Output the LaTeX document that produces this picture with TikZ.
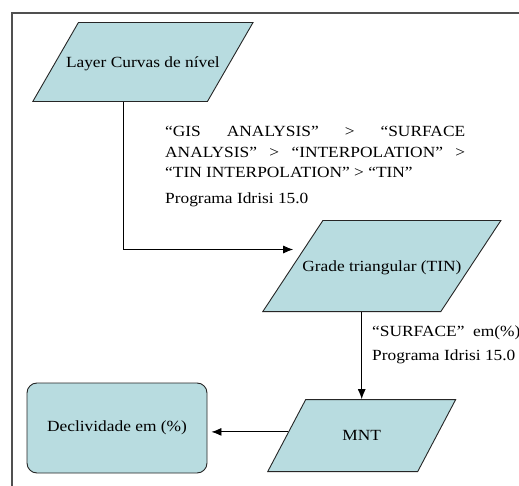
\documentclass[tikz,border=0pt]{standalone}
\usepackage{fontspec}
\setmainfont[FakeStretch=1.12]{Liberation Serif}
\usetikzlibrary{shapes.geometric,arrows.meta,calc}
\definecolor{datafill}{RGB}{184,220,224}
\definecolor{framegray}{RGB}{80,80,80}
\begin{document}
\begin{tikzpicture}[x=1pt,y=-1pt,
  datanode/.style={trapezium, draw=black!85, fill=datafill,
    line width=0.9pt, inner sep=0pt, anchor=bottom left corner,
    font=\fontsize{15.5}{18}\selectfont},
  resultbox/.style={rectangle, rounded corners=10pt, draw=black!85,
    fill=datafill, line width=0.9pt, inner sep=0pt,
    font=\fontsize{15.5}{18}\selectfont},
  flow/.style={-{Latex[length=10pt,width=8pt]}, line width=0.9pt},
  note/.style={font=\fontsize{15.5}{20.5}\selectfont, inner sep=0pt, anchor=west}]
\useasboundingbox (0,0) rectangle (519,486);
\clip (0,0) rectangle (519,486);
\fill[white] (0,0) rectangle (519,486);

% outer frame (open to the right and bottom)
\draw[framegray, line width=1.3pt] (12,500) -- (12,13) -- (530,13);

% data nodes (parallelograms placed by their lower left corner)
\node[datanode, trapezium left angle=60, trapezium right angle=120,
  text height=44.7pt, text depth=34.3pt] (p1) at (32,102)
  {\makebox[129pt]{Layer Curvas de nível}};
\node[datanode, trapezium left angle=56.6, trapezium right angle=123.4,
  text height=50.7pt, text depth=40.3pt] (p2) at (262,312)
  {\makebox[118pt]{Grade triangular (TIN)}};
\node[datanode, trapezium left angle=62.2, trapezium right angle=117.8,
  text height=41.2pt, text depth=30.8pt] (p3) at (267,472)
  {\makebox[112pt]{MNT}};
\node[resultbox, minimum width=180pt, minimum height=90pt] (box) at (117,428)
  {Declividade em (\%)};

% connectors
\coordinate (p1out) at ($(p1.bottom left corner)!0.52!(p1.bottom right corner)$);
\coordinate (p2in) at ($(p2.bottom left corner)!0.68!(p2.top left corner)$);
\draw[flow, shorten >=10pt] (p1out) |- (p2in);
\draw[flow] (p2.bottom left corner -| p3.north) -- (p3.north);
\coordinate (p3out) at ($(p3.bottom left corner)!0.55!(p3.top left corner)$);
\draw[flow, shorten >=4pt] (p3out) -- (p3out -| box.east);

% step labels
\node[note, align=left] (lbl1) at (165,152)
  {\makebox[300pt][s]{“GIS ANALYSIS” > “SURFACE}\\
   \makebox[300pt][s]{ANALYSIS” > “INTERPOLATION” >}\\
   “TIN INTERPOLATION” > “TIN”};
\node[note] (lbl2) at (165,200) {Programa Idrisi 15.0};
\node[note] (lbl3) at (372,333) {“SURFACE”\ \ em(\%)};
\node[note] (lbl4) at (372,357) {Programa Idrisi 15.0};
\end{tikzpicture}
\end{document}
